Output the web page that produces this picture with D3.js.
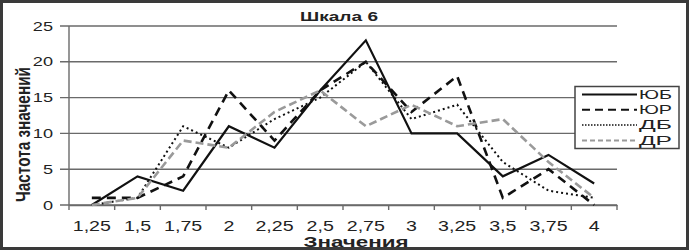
<!DOCTYPE html>
<html>
<head>
<meta charset="utf-8">
<script src="https://cdn.jsdelivr.net/npm/d3@7"></script>
<style>
  body { margin: 0; background: #fff; }
  svg { display: block; font-family: "Liberation Sans", Arial, sans-serif; }
</style>
</head>
<body>
<svg id="chart" width="689" height="250"></svg>
<script>
// значения по оси X
const categories = ["1,25", "1,5", "1,75", "2", "2,25", "2,5", "2,75", "3", "3,25", "3,5", "3,75", "4"];
const yTicks = [0, 5, 10, 15, 20, 25];
const seriesNames = ["ЮБ", "ЮР", "ДБ", "ДР"];
const valuesUB = [0, 4, 2, 11, 8, 16, 23, 10, 10, 4, 7, 3];
const valuesUR = [1, 1, 4, 16, 9, 16, 20, 13, 18, 1, 5, 0];
const valuesDB = [0, 1, 11, 8, 12, 15, 20, 12, 14, 6, 2, 1];
const valuesDR = [0, 1, 9, 8, 13, 16, 11, 14, 11, 12, 6, 1];

const styles = [
    { color: "#111", width: 2.2, dash: null },
    { color: "#111", width: 2.6, dash: "9,6" },
    { color: "#111", width: 2, dash: "2,3" },
    { color: "#9a9a9a", width: 2.6, dash: "8,4" }
];
const allSeries = [valuesUB, valuesUR, valuesDB, valuesDR];

const svg = d3.select("#chart");

// рамка
svg.append("rect")
    .attr("x", 1.5).attr("y", 1.5)
    .attr("width", 686).attr("height", 247)
    .attr("fill", "#fff")
    .attr("stroke", "#3a3a3a")
    .attr("stroke-width", 3);

const x = d3.scaleBand()
    .domain(categories)
    .range([69, 617])
    .padding(0);

const y = d3.scaleLinear()
    .domain([0, 25])
    .range([205, 26]);

// сетка
svg.append("g")
    .selectAll("line")
    .data(yTicks)
    .join("line")
    .attr("x1", 60).attr("x2", 617)
    .attr("y1", d => y(d)).attr("y2", d => y(d))
    .attr("stroke", "#6a6a6a")
    .attr("stroke-width", 1.4);

// ось Y
svg.append("line")
    .attr("x1", 69).attr("x2", 69)
    .attr("y1", y(25)).attr("y2", y(0))
    .attr("stroke", "#6a6a6a").attr("stroke-width", 1.4);

// подписи оси Y
svg.append("g")
    .selectAll("g")
    .data(yTicks)
    .join("g")
    .attr("transform", d => `translate(53,${y(d) + 4.6}) scale(1.45,1)`)
    .append("text")
    .attr("text-anchor", "end")
    .attr("font-size", 12.5)
    .attr("fill", "#222")
    .text(d => d);

// ось X
const xAxis = svg.append("g")
    .attr("transform", `translate(0,${y(0)})`)
    .call(d3.axisBottom(x).tickSize(0).tickFormat(""));
xAxis.select(".domain").attr("stroke", "#6a6a6a").attr("stroke-width", 1.4);

const tickPos = categories.map(c => x(c)).concat([x.range()[1]]);
svg.append("g")
    .selectAll("line")
    .data(tickPos)
    .join("line")
    .attr("x1", d => d).attr("x2", d => d)
    .attr("y1", y(0)).attr("y2", y(0) + 5)
    .attr("stroke", "#6a6a6a").attr("stroke-width", 1.4);

svg.append("g")
    .selectAll("g")
    .data(categories)
    .join("g")
    .attr("transform", d => `translate(${x(d) + x.bandwidth() / 2},230.5) scale(1.4,1)`)
    .append("text")
    .attr("text-anchor", "middle")
    .attr("font-size", 14)
    .attr("fill", "#222")
    .text(d => d);

// линии
const line = d3.line()
    .x((d, i) => x(categories[i]) + x.bandwidth() / 2)
    .y(d => y(d));

svg.append("g")
    .selectAll("path")
    .data(allSeries)
    .join("path")
    .attr("d", d => line(d))
    .attr("fill", "none")
    .attr("stroke", (d, i) => styles[i].color)
    .attr("stroke-width", (d, i) => styles[i].width)
    .attr("stroke-dasharray", (d, i) => styles[i].dash)
    .attr("stroke-linejoin", "miter");

// заголовки
svg.append("text")
    .attr("x", 339).attr("y", 21)
    .attr("text-anchor", "middle")
    .attr("font-size", 12)
    .attr("font-weight", "bold")
    .attr("fill", "#222")
    .attr("textLength", 78)
    .attr("lengthAdjust", "spacingAndGlyphs")
    .text("Шкала 6");

svg.append("text")
    .attr("x", 356).attr("y", 246.5)
    .attr("text-anchor", "middle")
    .attr("font-size", 15)
    .attr("font-weight", "bold")
    .attr("fill", "#222")
    .attr("textLength", 105)
    .attr("lengthAdjust", "spacingAndGlyphs")
    .text("Значения");

svg.append("g")
    .attr("transform", "translate(29.5,134.5) scale(1.5,1) rotate(-90)")
    .append("text")
    .attr("text-anchor", "middle")
    .attr("font-size", 14)
    .attr("font-weight", "bold")
    .attr("fill", "#222")
    .attr("textLength", 135)
    .attr("lengthAdjust", "spacingAndGlyphs")
    .text("Частота значений");

// легенда
const legend = svg.append("g");
legend.append("rect")
    .attr("x", 575).attr("y", 86.5)
    .attr("width", 104).attr("height", 62)
    .attr("fill", "#fff")
    .attr("stroke", "#444")
    .attr("stroke-width", 1.5);

const items = legend.selectAll("g.item")
    .data(seriesNames)
    .join("g")
    .attr("class", "item")
    .attr("transform", (d, i) => `translate(0,${94.5 + i * 15.3})`);

items.append("line")
    .attr("x1", 582).attr("x2", 637)
    .attr("y1", 0).attr("y2", 0)
    .attr("stroke", (d, i) => styles[i].color)
    .attr("stroke-width", (d, i) => i == 2 ? 1.5 : 2)
    .attr("stroke-dasharray", (d, i) => i == 1 ? "8,5" : i == 2 ? "1.5,1.5" : i == 3 ? "5,3" : null);

items.append("text")
    .attr("x", 639).attr("y", 4.3)
    .attr("font-size", 12)
    .attr("fill", "#222")
    .attr("textLength", 33)
    .attr("lengthAdjust", "spacingAndGlyphs")
    .text(d => d);
</script>
</body>
</html>
